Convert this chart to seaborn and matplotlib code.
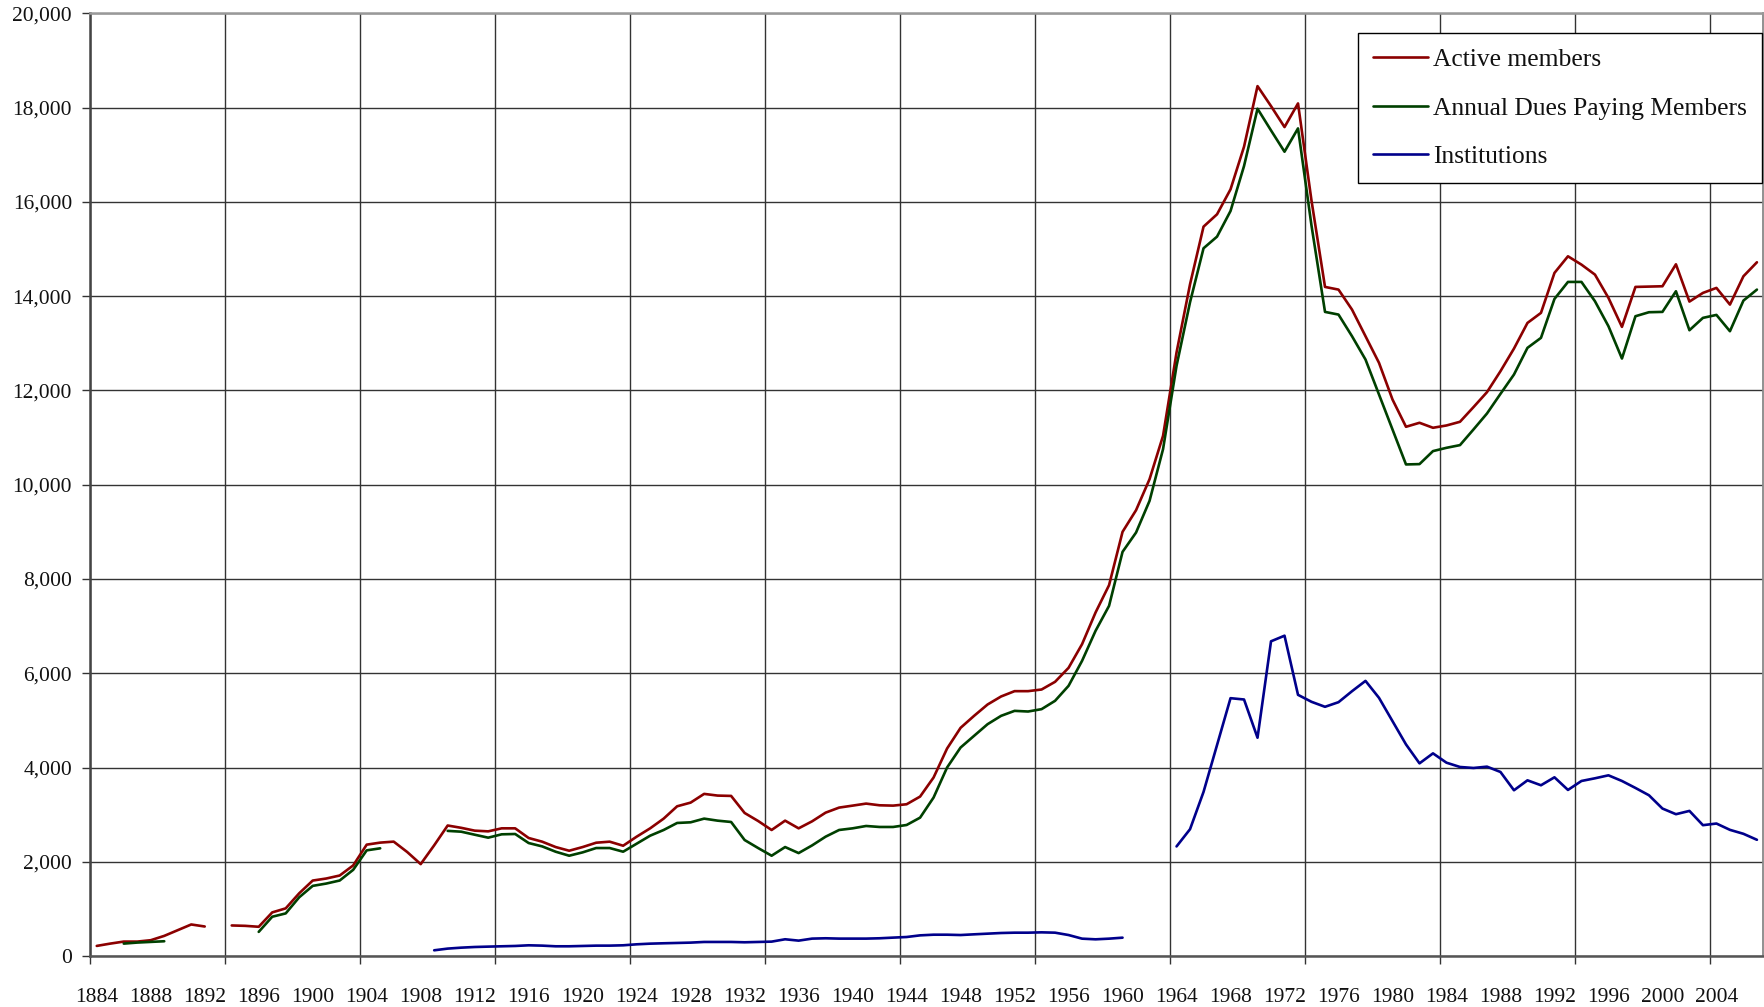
import numpy as np
import pandas as pd
import matplotlib
matplotlib.use("Agg")
import matplotlib.pyplot as plt
import seaborn as sns
from matplotlib.lines import Line2D
from matplotlib.ticker import FuncFormatter

years = list(range(1884, 2008))

active = [214, 263, 306, 306, 335, 427, 548, 669, 626, None,
          648, 640, 620, 925, 1011, 1331, 1601, 1644, 1708, 1922,
          2363, 2406, 2427, 2207, 1950, 2349, 2769, 2720, 2660, 2645,
          2709, 2709, 2504, 2426, 2312, 2234, 2312, 2404, 2426, 2340,
          2532, 2709, 2915, 3177, 3255, 3440, 3404, 3397, 3035, 2865,
          2674, 2872, 2709, 2858, 3042, 3149, 3191, 3234, 3198, 3191,
          3220, 3383, 3788, 4403, 4842, 5096, 5337, 5507, 5620, 5620,
          5655, 5818, 6115, 6617, 7289, 7869, 9001, 9460, 10118, 11038,
          12806, 14254, 15477, 15739, 16269, 17173, 18459, 18035, 17590, 18092,
          16028, 14198, 14141, 13717, 13152, 12587, 11809, 11230, 11315, 11209,
          11258, 11336, 11647, 11965, 12410, 12890, 13434, 13647, 14495, 14848,
          14671, 14459, 13965, 13350, 14198, 14205, 14212, 14678, 13887, 14071,
          14177, 13823, 14424, 14721]

dues = [None, None, 263, 285, 299, 313, None, None, None, None,
        None, None, 512, 833, 904, 1246, 1488, 1537, 1602, 1829,
        2242, 2285, None, None, None, None, 2655, 2638, 2574, 2511,
        2582, 2589, 2397, 2326, 2213, 2128, 2199, 2291, 2291, 2213,
        2383, 2553, 2674, 2823, 2837, 2915, 2872, 2844, 2461, 2291,
        2128, 2312, 2184, 2347, 2532, 2674, 2709, 2759, 2738, 2738,
        2780, 2936, 3363, 4000, 4424, 4672, 4919, 5096, 5202, 5188,
        5238, 5415, 5733, 6263, 6900, 7430, 8576, 8986, 9658, 10755,
        12523, 13873, 15018, 15265, 15809, 16763, 17979, 17519, 17067, 17562,
        15498, 13668, 13611, 13152, 12657, 11915, 11173, 10431, 10438, 10714,
        10784, 10841, 11173, 11512, 11929, 12339, 12905, 13117, 13943, 14304,
        14304, 13894, 13364, 12678, 13576, 13661, 13668, 14106, 13279, 13541,
        13604, 13258, 13908, 14141]

institutions = [None] * 25 + [
    121, 157, 177, 191, 199, 206, 213, 227, 220, 206,
    206, 213, 220, 220, 227, 248, 262, 270, 277, 284,
    298, 298, 298, 291, 298, 305, 355, 326, 369, 376,
    369, 369, 369, 376, 390, 403, 438, 452, 452, 445,
    460, 474, 488, 495, 495, 502, 495, 445, 368, 354,
    368, 389, None, None, None,
    2325, 2691, 3482, 4476, 5471, 5443, 4632, 6678, 6797, 5542,
    5394, 5288, 5386, 5619, 5838, 5478, 4984, 4490, 4088, 4300,
    4102, 4011, 3990, 4018, 3905, 3517, 3728, 3623, 3792, 3524,
    3714, 3771, 3834, 3714, 3566, 3411, 3129, 3009, 3079, 2776,
    2811, 2677, 2593, 2466]

series_names = ["Active members", "Annual Dues Paying Members", "Institutions"]
series_values = [active, dues, institutions]
series_colors = ["#8B0000", "#004000", "#00008B"]

x_label_years = list(range(1884, 2005, 4))
x_grid_positions = [y - 0.5 for y in range(1884, 2005, 10)]
y_ticks = list(range(0, 20001, 2000))

sns.set_style("white")
plt.rcParams["font.family"] = ["Liberation Serif", "DejaVu Serif"]

W, H = 1765, 1007
fig = plt.figure(figsize=(W / 100, H / 100), dpi=100)
left, right, top, bottom = 90, 1763, 13.5, 956
ax = fig.add_axes([left / W, 1 - bottom / H, (right - left) / W, (bottom - top) / H])

handles = []
for name, vals, col in zip(series_names, series_values, series_colors):
    s = pd.Series([np.nan if v is None else v for v in vals], dtype=float)
    seg = s.isna().cumsum()
    ok = s.notna()
    d = pd.DataFrame({"year": np.array(years)[ok.values],
                      "value": s[ok].values,
                      "seg": seg[ok].values})
    sns.lineplot(data=d, x="year", y="value", units="seg", estimator=None,
                 color=col, lw=1.9, ax=ax, legend=False)
    handles.append(Line2D([0], [0], color=col, lw=1.9))

ax.set_xlim(1883.5, 2007.45)
ax.set_ylim(0, 20000)
ax.set_xlabel("")
ax.set_ylabel("")

# gridlines / tick marks at decade boundaries
ax.set_xticks(x_grid_positions)
ax.set_xticklabels([""] * len(x_grid_positions))
ax.set_xticks(x_label_years, minor=True)
ax.set_xticklabels([str(y) for y in x_label_years], minor=True)
ax.tick_params(axis="x", which="major", direction="out", length=6, width=1,
               color="#333333", bottom=True)
ax.tick_params(axis="x", which="minor", length=0, pad=23, labelsize=15.5,
               labelcolor="#111111")

ax.set_yticks(y_ticks)
ax.yaxis.set_major_formatter(FuncFormatter(lambda v, p: f"{int(v):,}"))
ax.tick_params(axis="y", which="major", direction="out", length=6, width=1,
               color="#333333", pad=7, labelsize=15.5, labelcolor="#111111", left=True)

ax.grid(True, which="major", axis="both", color="#333333", lw=1.0)
ax.set_axisbelow(True)

ax.spines["left"].set_color("#444444")
ax.spines["left"].set_linewidth(1.8)
ax.spines["bottom"].set_color("#555555")
ax.spines["bottom"].set_linewidth(1.8)
ax.spines["top"].set_color("#999999")
ax.spines["top"].set_linewidth(1.8)
ax.spines["right"].set_color("#888888")
ax.spines["right"].set_linewidth(1.3)

leg = ax.legend(handles, series_names, loc="upper right",
                bbox_to_anchor=(0.9994, 0.9788), frameon=True, fancybox=False,
                edgecolor="black", framealpha=1, fontsize=18.4,
                handlelength=2.15, handletextpad=0.2, labelspacing=1.0,
                borderpad=0.58, borderaxespad=0)
leg.get_frame().set_linewidth(1.0)
for t in leg.get_texts():
    t.set_color("#111111")

fig.savefig("out.png", dpi=100)
